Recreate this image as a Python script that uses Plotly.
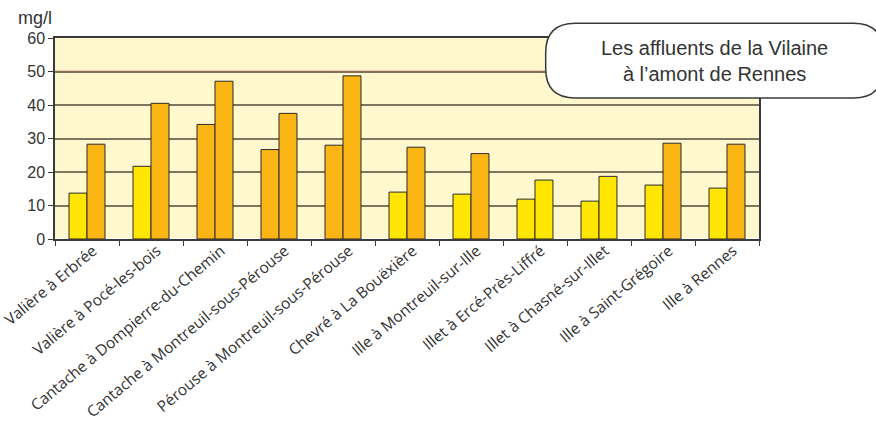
import plotly.graph_objects as go

# Stations sampled on the tributaries upstream of Rennes
stations = [
    "Valière à Erbrée",
    "Valière à Pocé-les-bois",
    "Cantache à Dompierre-du-Chemin",
    "Cantache à Montreuil-sous-Pérouse",
    "Pérouse à Montreuil-sous-Pérouse",
    "Chevré à La Bouëxière",
    "Ille à Montreuil-sur-Ille",
    "Illet à Ercé-Près-Liffré",
    "Illet à Chasné-sur-Illet",
    "Ille à Saint-Grégoire",
    "Ille à Rennes",
]

# Concentrations (mg/l), two measures per station
conc_a = [13.7, 21.7, 34.2, 26.7, 28.0, 14.0, 13.4, 11.9, 11.3, 16.1, 15.2]
conc_b = [28.3, 40.5, 47.1, 37.5, 48.7, 27.4, 25.5, 17.6, 18.7, 28.6, 28.3]

y_ticks = [0, 10, 20, 30, 40, 50, 60]
limit_value = 50
class_split = 25

YELLOW = "#FFE600"
ORANGE = "#FBB615"


def bar_colors(values):
    return [ORANGE if v >= class_split else YELLOW for v in values]


fig = go.Figure()
for vals in (conc_a, conc_b):
    fig.add_trace(go.Bar(
        x=stations,
        y=vals,
        marker=dict(color=bar_colors(vals), line=dict(color="#2b2b2b", width=1)),
        showlegend=False,
    ))

fig.update_layout(
    width=876,
    height=425,
    margin=dict(l=55, r=117, t=38, b=186),
    paper_bgcolor="white",
    plot_bgcolor="#FFF8CF",
    barmode="group",
    bargap=0.438,
    bargroupgap=0,
    font=dict(family="Liberation Sans, Arial, sans-serif", color="#333333"),
)

fig.update_xaxes(
    automargin=False,
    showline=True, linecolor="#3a3a3a", linewidth=1.5, mirror=True,
    ticks="outside", tickson="boundaries", ticklen=5, tickcolor="#3a3a3a",
    tickangle=-40,
    ticklabelshift=6, ticklabelstandoff=-5,
    tickfont=dict(family="Open Sans, Noto Sans, sans-serif", size=15.5, color="#333333"),
    showgrid=False,
)
fig.update_yaxes(
    automargin=False,
    range=[0, 60],
    tickvals=y_ticks,
    showline=True, linecolor="#3a3a3a", linewidth=1.5, mirror=True,
    ticks="outside", ticklen=5, tickcolor="#3a3a3a",
    tickfont=dict(size=16, color="#333333"),
    showgrid=True, gridcolor="#7F745C", gridwidth=1.5,
)

# Reference limit line
fig.add_shape(
    type="line", xref="paper", yref="y", x0=0, x1=1, y0=limit_value, y1=limit_value,
    line=dict(color="#E8352C", width=1.5), layer="between",
)

# Rounded title box (extends past the right edge of the figure)
x0, x1, y0, y1, r = 0.697, 1.176, 0.701, 1.074, 0.042
ry = r * 704 / 201.6
path = (
    f"M {x0 + r},{y1} L {x1 - r},{y1} "
    f"Q {x1},{y1} {x1},{y1 - ry} L {x1},{y0 + ry} "
    f"Q {x1},{y0} {x1 - r},{y0} L {x0 + r},{y0} "
    f"Q {x0},{y0} {x0},{y0 + ry} L {x0},{y1 - ry} "
    f"Q {x0},{y1} {x0 + r},{y1} Z"
)
fig.add_shape(
    type="path", xref="paper", yref="paper", path=path,
    fillcolor="white", line=dict(color="#3a3a3a", width=1.5), layer="above",
)

fig.add_annotation(
    xref="paper", yref="paper", x=0.937, y=0.887,
    text="Les affluents de la Vilaine<br>à l’amont de Rennes",
    showarrow=False, xanchor="center", yanchor="middle",
    font=dict(size=20, color="#333333"),
)

fig.add_annotation(
    xref="paper", yref="paper", x=-0.028, y=1.10,
    text="mg/l", showarrow=False, xanchor="center", yanchor="middle",
    font=dict(size=18, color="#333333"),
)

fig.write_html("out.html")
